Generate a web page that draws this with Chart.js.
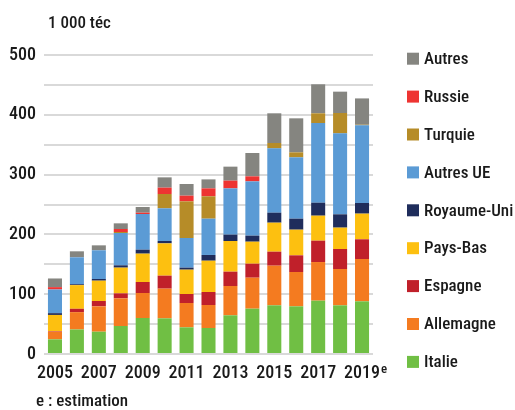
<!DOCTYPE html>
<html><head><meta charset="utf-8">
<script src="https://cdn.jsdelivr.net/npm/chart.js@4.4.1/dist/chart.umd.min.js"></script>
<style>html,body{margin:0;padding:0;background:#fff}canvas{display:block}</style>
</head><body>
<canvas id="c" width="515" height="410"></canvas>
<script>
// ---- data (1 000 tec) ----
const years = ['2005','2006','2007','2008','2009','2010','2011','2012','2013','2014','2015','2016','2017','2018','2019'];
const italie      = [24.5, 41, 37.3, 46.8, 60.2, 59.6, 44.6, 43.5, 64.7, 75.8, 81.4, 79.7, 89.2, 81.4, 88.1];
const allemagne   = [12.8, 29, 42.4, 46.3, 41.8, 49.7, 40.7, 38.4, 49, 51.8, 66.3, 57.4, 64.6, 60.7, 70.8];
const espagne     = [1, 5.6, 8.9, 8.3, 18.4, 21.7, 15, 21.8, 24, 23.4, 23.4, 27.9, 35.7, 33.5, 32.9];
const paysBas     = [27, 39.6, 34, 43, 47.4, 54, 40.7, 52.3, 51.3, 36.8, 48.5, 42.9, 41.8, 35.7, 42.9];
const royaumeUni  = [3, 1.5, 2.8, 3.9, 6.7, 4, 3.4, 9.6, 10.6, 10.1, 16.7, 18.4, 21.7, 22.3, 17.8];
const autresUE    = [39.6, 45, 48, 54, 59.6, 54.6, 49.6, 60.7, 77.4, 90.8, 107.6, 102.6, 133.3, 135.4, 129.9];
const turquie     = [0, 0, 0, 1.7, 0, 24, 61.3, 37.4, 0, 0, 8.9, 8.3, 16.2, 34, 1];
const russie      = [3.9, 0, 0, 5, 2.2, 10.6, 9.5, 13.3, 12.9, 8.4, 0, 0, 0, 0, 0];
const autres      = [14.5, 10, 8.3, 9.5, 9.5, 17.2, 19.5, 15, 23.4, 39, 49.7, 56.9, 48.5, 35.7, 44];

const seriesNames  = ['Italie','Allemagne','Espagne','Pays-Bas','Royaume-Uni','Autres UE','Turquie','Russie','Autres'];
const seriesValues = [italie, allemagne, espagne, paysBas, royaumeUni, autresUE, turquie, russie, autres];
const seriesColors = ['#70bf44','#f47b20','#c0202a','#fdc010','#1f2d5c','#5b9bd5','#b68c28','#ee3432','#858580'];

const yTickLabels = [0, 100, 200, 300, 400, 500];
const xTickLabels = ['2005','2007','2009','2011','2013','2015','2017','2019'];
const estimatedYear = '2019';
const unitLabel = '1 000 téc';
const footnote = 'e : estimation';

const FONT = "'Roboto Condensed','DejaVu Sans',sans-serif";
const W = '500';
const TEXT = '#1a1a1a';

const extras = {
  id: 'extras',
  afterDraw(chart) {
    const ctx = chart.ctx;
    const ca = chart.chartArea;
    ctx.save();
    ctx.fillStyle = TEXT;
    ctx.font = `${W} 17px ${FONT}`;
    ctx.textBaseline = 'middle';
    ctx.textAlign = 'left';
    ctx.fillText(unitLabel, ca.left + 4, 24);
    ctx.fillText(footnote, 36, 402);

    // superscript e on estimated year
    const xs = chart.scales.x;
    const idx = years.indexOf(estimatedYear);
    ctx.font = `${W} 18px ${FONT}`;
    const w = ctx.measureText(estimatedYear).width;
    const px = xs.getPixelForTick(idx);
    ctx.font = `${W} 13px ${FONT}`;
    ctx.fillText('e', px + w / 2 + 1, 370);

    // legend (reverse order)
    ctx.font = `${W} 17px ${FONT}`;
    const ds = chart.data.datasets;
    for (let k = 0; k < ds.length; k++) {
      const d = ds[ds.length - 1 - k];
      const cy = 58.7 + 37.9 * k;
      ctx.fillStyle = d.backgroundColor;
      ctx.fillRect(407, cy - 6, 12, 12);
      ctx.fillStyle = TEXT;
      ctx.fillText(d.label, 424, cy + 1);
    }
    ctx.restore();
  }
};

new Chart(document.getElementById('c'), {
  type: 'bar',
  data: {
    labels: years,
    datasets: seriesNames.map((n, i) => ({
      label: n,
      data: seriesValues[i],
      backgroundColor: seriesColors[i],
      borderWidth: 0,
      barPercentage: 0.64,
      categoryPercentage: 1
    }))
  },
  options: {
    responsive: false,
    animation: false,
    layout: { padding: { left: 0, right: 142, top: 55, bottom: 0 } },
    plugins: { legend: { display: false }, title: { display: false }, tooltip: { enabled: false } },
    scales: {
      x: {
        stacked: true,
        grid: { display: false, drawTicks: false },
        border: { display: false },
        ticks: {
          autoSkip: false, maxRotation: 0, minRotation: 0, padding: 9,
          color: TEXT, font: { family: FONT, size: 18, weight: W },
          callback: (v, i) => xTickLabels.includes(years[i]) ? years[i] : ''
        },
        afterFit: s => { s.height = 56; }
      },
      y: {
        stacked: true, min: 0, max: 500,
        grid: { color: '#d9d9d9', lineWidth: 2, drawTicks: false },
        border: { display: false },
        ticks: {
          stepSize: 50, padding: 8, color: TEXT, font: { family: FONT, size: 18, weight: W },
          callback: v => yTickLabels.includes(v) ? String(v) : ''
        },
        afterFit: s => { s.width = 44; }
      }
    }
  },
  plugins: [extras]
});
</script>
</body></html>
